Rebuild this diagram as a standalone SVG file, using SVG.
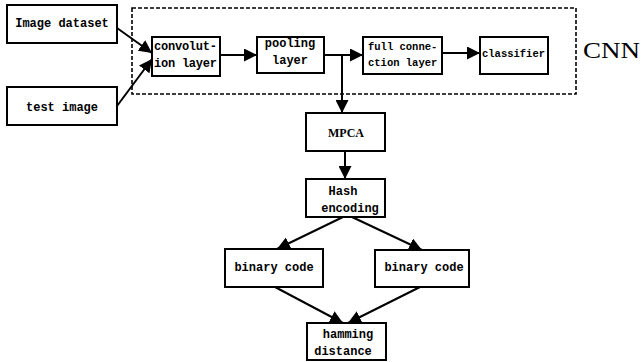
<svg xmlns="http://www.w3.org/2000/svg" width="643" height="362" viewBox="0 0 643 362">
<defs>
<style>
.box{fill:#fff;stroke:#000;stroke-width:2}
.t{font-family:"Liberation Mono",monospace;font-weight:bold;font-size:12px;fill:#000}
.s{font-size:10.5px}
.c{text-anchor:middle}
.e{fill:none;stroke:#000;stroke-width:2}
</style>
<marker id="ah" viewBox="0 0 10 10" refX="10" refY="5" markerWidth="6.5" markerHeight="6.5" orient="auto" markerUnits="strokeWidth">
<path d="M0,0 L10,5 L0,10 Z" fill="#000"/>
</marker>
</defs>
<rect width="643" height="362" fill="#fff"/>
<g id="cnn-frame">
<rect x="132" y="8" width="444" height="86" fill="none" stroke="#000" stroke-width="1.6" stroke-dasharray="4,2"/>
<text x="583" y="58" font-family="Liberation Serif,serif" font-size="24" textLength="57" lengthAdjust="spacingAndGlyphs">CNN</text>
</g>
<g id="connectors">
<path class="e" d="M117,28 L152,53" marker-end="url(#ah)"/>
<path class="e" d="M117,106 L152,59" marker-end="url(#ah)"/>
<path class="e" d="M220,55 L257,55" marker-end="url(#ah)"/>
<path class="e" d="M324,55 L363,55" marker-end="url(#ah)"/>
<path class="e" d="M342,55 L342,113" marker-end="url(#ah)"/>
<path class="e" d="M442,53 L480,53" marker-end="url(#ah)"/>
<path class="e" d="M345,151 L345,179" marker-end="url(#ah)"/>
<path class="e" d="M343,217 L277,249" marker-end="url(#ah)"/>
<path class="e" d="M352,217 L422,250" marker-end="url(#ah)"/>
<path class="e" d="M275,287 L343,323" marker-end="url(#ah)"/>
<path class="e" d="M420,287 L348,323" marker-end="url(#ah)"/>
</g>
<g id="image-dataset">
<rect class="box" x="7" y="5" width="110" height="38"/>
<text class="t c" x="62" y="27">Image dataset</text>
</g>
<g id="test-image">
<rect class="box" x="7" y="87" width="110" height="38"/>
<text class="t c" x="62" y="111">test image</text>
</g>
<g id="convolution">
<rect class="box" x="152" y="37" width="68" height="39"/>
<text class="t" x="154" y="50" textLength="63">convolut-</text>
<text class="t" x="154" y="67" textLength="63">ion layer</text>
</g>
<g id="pooling">
<rect class="box" x="257" y="37" width="67" height="36"/>
<text class="t c" x="290" y="47">pooling</text>
<text class="t c" x="290" y="64">layer</text>
</g>
<g id="full-connection">
<rect class="box" x="363" y="37" width="79" height="37"/>
<text class="t s" x="368" y="50">full conne-</text>
<text class="t s" x="368" y="66">ction layer</text>
</g>
<g id="classifier">
<rect class="box" x="480" y="37" width="68" height="37"/>
<text class="t s" x="482" y="57">classifier</text>
</g>
<g id="mpca">
<rect class="box" x="306" y="113" width="79" height="38"/>
<text class="c" x="346" y="137" font-family="Liberation Serif,serif" font-weight="bold" font-size="12">MPCA</text>
</g>
<g id="hash">
<rect class="box" x="306" y="179" width="79" height="38"/>
<text class="t c" x="343" y="195">Hash</text>
<text class="t c" x="350" y="212">encoding</text>
</g>
<g id="binary-left">
<rect class="box" x="225" y="249" width="98" height="38"/>
<text class="t c" x="274" y="271">binary code</text>
</g>
<g id="binary-right">
<rect class="box" x="375" y="250" width="94" height="37"/>
<text class="t c" x="424" y="271">binary code</text>
</g>
<g id="hamming">
<rect class="box" x="307" y="323" width="79" height="37"/>
<text class="t c" x="348" y="338">hamming</text>
<text class="t c" x="343" y="355">distance</text>
</g>
</svg>
